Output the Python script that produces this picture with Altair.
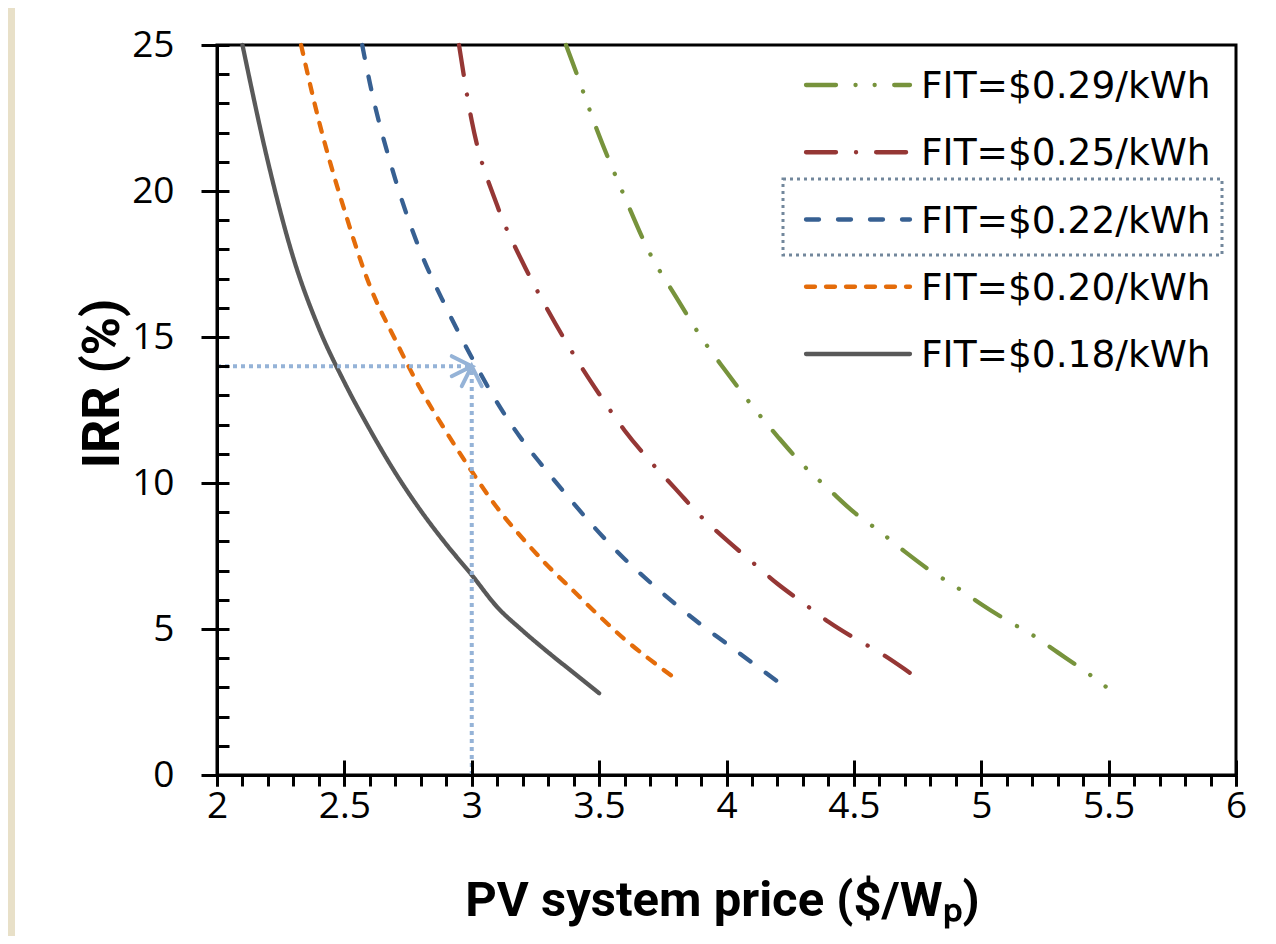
import altair as alt
import pandas as pd

# ---------------- data ----------------
series_labels = ["FIT=$0.29/kWh", "FIT=$0.25/kWh", "FIT=$0.22/kWh", "FIT=$0.20/kWh", "FIT=$0.18/kWh"]
series_colors = ["#77933C", "#953735", "#376092", "#E46C0A", "#595959"]
series_dashes = [[30, 19.5, 0.1, 19, 0.1, 19.5], [30, 20, 0.1, 20], [13, 19], [9, 11], [1, 0]]

price_029 = [3.37, 3.4, 3.5, 3.6, 3.7, 3.8, 3.9, 4.0, 4.1, 4.2, 4.3, 4.4, 4.5, 4.6, 4.7, 4.8, 4.9, 5.0, 5.1, 5.2, 5.3, 5.4, 5.5]
irr_029 = [25.0, 24.3, 21.9, 19.8, 17.85, 16.4, 15.0, 13.8, 12.65, 11.6, 10.62, 9.8, 9.0, 8.35, 7.65, 7.0, 6.45, 5.85, 5.3, 4.8, 4.2, 3.6, 2.95]

price_025 = [2.95, 3.0, 3.1, 3.2, 3.3, 3.4, 3.5, 3.6, 3.7, 3.8, 3.9, 4.0, 4.1, 4.2, 4.3, 4.4, 4.5, 4.6, 4.7, 4.75]
irr_025 = [25.0, 22.4, 19.5, 17.55, 15.9, 14.4, 13.05, 11.8, 10.75, 9.8, 8.85, 8.05, 7.3, 6.55, 5.9, 5.25, 4.7, 4.2, 3.62, 3.31]

price_022 = [2.57, 2.6, 2.7, 2.8, 2.9, 3.0, 3.1, 3.2, 3.3, 3.4, 3.5, 3.6, 3.7, 3.8, 3.9, 4.0, 4.1, 4.2]
irr_022 = [25.0, 23.7, 20.4, 17.9, 16.0, 14.3, 12.75, 11.45, 10.35, 9.3, 8.3, 7.4, 6.6, 5.85, 5.15, 4.5, 3.85, 3.2]

price_020 = [2.33, 2.4, 2.5, 2.6, 2.7, 2.8, 2.9, 3.0, 3.1, 3.2, 3.3, 3.4, 3.5, 3.6, 3.7, 3.8]
irr_020 = [25.0, 22.4, 19.35, 16.75, 14.9, 13.2, 11.75, 10.4, 9.15, 8.1, 7.15, 6.3, 5.45, 4.65, 3.95, 3.3]

price_018 = [2.10, 2.2, 2.3, 2.4, 2.5, 2.6, 2.7, 2.8, 2.9, 3.0, 3.1, 3.2, 3.3, 3.4, 3.5]
irr_018 = [25.0, 21.0, 17.7, 15.3, 13.45, 11.83, 10.35, 9.05, 7.9, 6.85, 5.75, 4.94, 4.2, 3.5, 2.8]

# example reading: price 3 $/Wp -> IRR 14 %
ref_price = 3.0
ref_irr = 14.0
x_min, x_max = 2.0, 6.0
y_min, y_max = 0.0, 25.0

x_major = [2, 2.5, 3, 3.5, 4, 4.5, 5, 5.5, 6]
y_major = [0, 5, 10, 15, 20, 25]
x_minor = [round(2 + 0.1 * i, 1) for i in range(41)]
y_minor = list(range(0, 26))

# ---------------- build table ----------------
frames = []
for lab, px, iy in zip(series_labels,
                       [price_029, price_025, price_022, price_020, price_018],
                       [irr_029, irr_025, irr_022, irr_020, irr_018]):
    frames.append(pd.DataFrame({"price": px, "irr": iy, "series": lab}))
df = pd.concat(frames, ignore_index=True)

hline_df = pd.DataFrame({"x": [x_min], "x2": [ref_price], "y": [ref_irr]})
vline_df = pd.DataFrame({"x": [ref_price], "y": [y_min], "y2": [ref_irr]})
tip_df = pd.DataFrame({"x": [ref_price], "y": [ref_irr]})
legend_df = pd.DataFrame({"series": series_labels})
one_df = pd.DataFrame({"k": [0]})

W, H = 1019, 730
LABEL_FONT = "Open Sans"
LEGEND_FONT = "DejaVu Sans"
TITLE_FONT = "Roboto"

xs = alt.Scale(domain=[x_min, x_max], nice=False, zero=False)
ys = alt.Scale(domain=[y_min, y_max], nice=False, zero=False)
color_scale = alt.Scale(domain=series_labels, range=series_colors)
dash_scale = alt.Scale(domain=series_labels, range=series_dashes)

x_main_axis = alt.Axis(
    values=x_major, format="~g", title="PV system price ($/Wₚ)", grid=False, zindex=2,
    tickSize=11, tickWidth=3, tickColor="black",
    domainColor="black", domainWidth=3,
    labelFont=LABEL_FONT, labelFontSize=37, labelColor="black", labelPadding=2,
    labelFlush=False, labelOverlap=False,
    titleFont=TITLE_FONT, titleFontSize=49, titleFontWeight="bold", titleColor="black",
    titleX=505, titleY=140, titleBaseline="alphabetic", titleAlign="center",
)
y_main_axis = alt.Axis(
    values=y_major, format="~g", title="IRR (%)", grid=False, zindex=2,
    tickSize=16, tickWidth=3, tickColor="black",
    domainColor="black", domainWidth=3,
    labelFont=LABEL_FONT, labelFontSize=37, labelColor="black", labelPadding=27,
    labelFlush=False, labelOverlap=False,
    titleFont=TITLE_FONT, titleFontSize=52, titleFontWeight="bold", titleColor="black",
    titleX=-99, titleY=338, titleBaseline="alphabetic", titleAlign="center", titleAngle=-90,
)

lines = alt.Chart(df).mark_line(strokeWidth=4.3, strokeCap="round", interpolate="monotone").encode(
    x=alt.X("price:Q", scale=xs, axis=x_main_axis),
    y=alt.Y("irr:Q", scale=ys, axis=y_main_axis),
    color=alt.Color("series:N", scale=color_scale, legend=None),
    strokeDash=alt.StrokeDash("series:N", scale=dash_scale, legend=None),
    detail="series:N",
)

ann_color = "#95B3D7"
hline = alt.Chart(hline_df).mark_rule(color=ann_color, strokeWidth=4, strokeDash=[4, 4]).encode(
    x=alt.X("x:Q", scale=xs, axis=None), x2="x2:Q", y=alt.Y("y:Q", scale=ys, axis=None)
)
vline = alt.Chart(vline_df).mark_rule(color=ann_color, strokeWidth=4, strokeDash=[4, 4]).encode(
    x=alt.X("x:Q", scale=xs, axis=None), y=alt.Y("y:Q", scale=ys, axis=None), y2="y2:Q"
)
tip = alt.Chart(tip_df).mark_point(
    shape="M-1,-0.5L0,0L-1,0.5M-0.5,1L0,0L0.5,1", size=1600, filled=False,
    color=ann_color, strokeWidth=4, strokeCap="round", opacity=1,
).encode(x=alt.X("x:Q", scale=xs, axis=None), y=alt.Y("y:Q", scale=ys, axis=None))

# extra axes: minor x ticks (outward), inner part of major x ticks, inner y ticks
ax_xminor = alt.Chart(df).mark_point(opacity=0).encode(
    x=alt.X("price:Q", scale=xs, axis=alt.Axis(
        values=x_minor, orient="bottom", labels=False, domain=False, grid=False, title=None,
        tickSize=11, tickWidth=3, tickColor="black", zindex=2)),
    y=alt.Y("irr:Q", scale=ys, axis=None),
)
ax_xinner = alt.Chart(df).mark_point(opacity=0).encode(
    x=alt.X("price:Q", scale=xs, axis=alt.Axis(
        values=x_major, orient="top", offset=-H, labels=False, domain=False, grid=False, title=None,
        tickSize=15, tickWidth=3, tickColor="black", zindex=2)),
    y=alt.Y("irr:Q", scale=ys, axis=None),
)
ax_yinner = alt.Chart(df).mark_point(opacity=0).encode(
    x=alt.X("price:Q", scale=xs, axis=None),
    y=alt.Y("irr:Q", scale=ys, axis=alt.Axis(
        values=y_minor, orient="right", offset=-W, labels=False, domain=False, grid=False, title=None,
        tickSize=12, tickWidth=3, tickColor="black", zindex=2)),
)

inner = alt.layer(lines, hline, vline, tip, ax_xminor, ax_xinner, ax_yinner).resolve_axis(
    x="independent", y="independent"
)

# beige strip at the left edge of the page
strip = alt.Chart(one_df).mark_rect(color="#E8E0C8").encode(
    x=alt.value(-209), x2=alt.value(-202), y=alt.value(-37), y2=alt.value(H + 161)
)

# legend
leg_y = alt.Y("series:N", scale=alt.Scale(type="point", domain=series_labels, range=[40, 309], padding=0), axis=None)
leg_rule = alt.Chart(legend_df).mark_rule(strokeWidth=4.3, strokeCap="round").encode(
    x=alt.value(589), x2=alt.value(693), y=leg_y,
    color=alt.Color("series:N", scale=color_scale, legend=None),
    strokeDash=alt.StrokeDash("series:N", scale=dash_scale, legend=None),
)
leg_text = alt.Chart(legend_df).mark_text(
    align="left", baseline="middle", font=LEGEND_FONT, fontSize=37.5, color="black", dy=2
).encode(x=alt.value(704), y=leg_y, text="series:N")

box = alt.Chart(one_df).mark_rect(
    fill=None, fillOpacity=0, stroke="#72879C", strokeWidth=3, strokeDash=[3, 4]
).encode(x=alt.value(566), x2=alt.value(1005), y=alt.value(134), y2=alt.value(210))

chart = alt.layer(strip, inner, box, leg_rule, leg_text).resolve_scale(y="independent").properties(
    width=W, height=H,
    autosize=alt.AutoSizeParams(type="none"),
    padding={"left": 209, "top": 37, "right": 32, "bottom": 161},
    background="white",
).configure_view(stroke="black", strokeWidth=3)

chart.save("out.html", embed_options={"renderer": "svg", "actions": False})
